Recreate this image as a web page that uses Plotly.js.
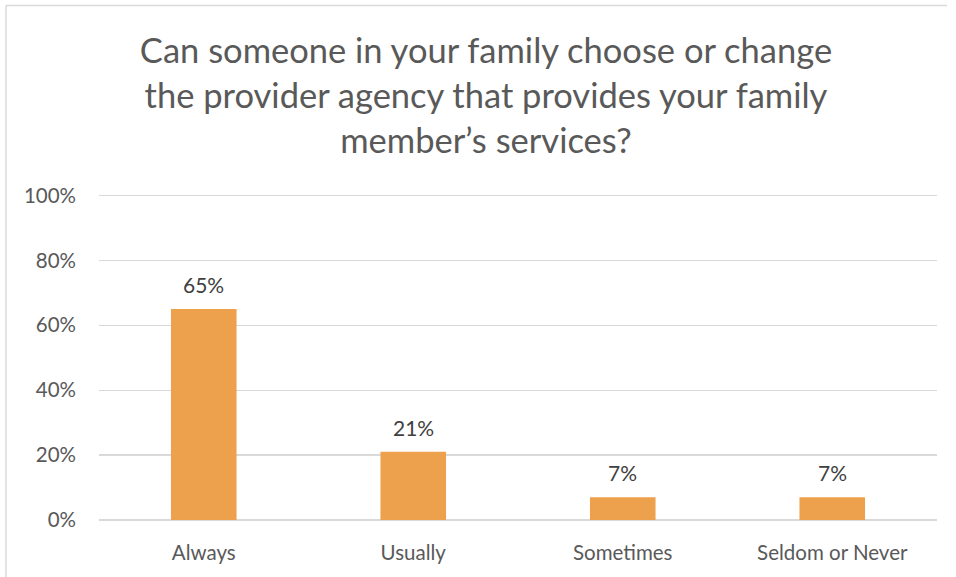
<!DOCTYPE html>
<html>
<head>
<meta charset="utf-8">
<script src="https://cdn.plot.ly/plotly-3.0.1.min.js"></script>
<style>
  html, body { margin: 0; padding: 0; background: #fff; }
  #chart { width: 956px; height: 577px; }
</style>
</head>
<body>
<div id="chart"></div>
<script>
const categories = ["Always", "Usually", "Sometimes", "Seldom or Never"];
const values = [65, 21, 7, 7];
const valueLabels = ["65%", "21%", "7%", "7%"];
const yTickValues = [0, 20, 40, 60, 80, 100];
const yTickLabels = ["0%", "20%", "40%", "60%", "80%", "100%"];
const titleText = "Can someone in your family choose or change<br>the provider agency that provides your family<br>member\u2019s services?";

const FONT = "Lato, 'Open Sans', sans-serif";

const trace = {
  type: "bar",
  x: categories,
  y: values,
  marker: { color: "#eda14c" },
  hoverinfo: "x+y"
};

const annotations = categories.map((c, i) => ({
  x: c, y: values[i], xref: "x", yref: "y",
  text: valueLabels[i], showarrow: false,
  yanchor: "bottom", yshift: 10,
  font: { family: FONT, size: 21, color: "#404040" }
}));

// plot area: x 99..937, y from 0 at 519.7, 100% at 195.7
const YMAX = 102;
const pxPerPct = 324 / 100;
const plotTop = 519.7 - YMAX * pxPerPct;
const plotH = 519.7 - plotTop;
const px = v => (v - 99) / 838;
const py = v => (519.7 - v) / plotH;

const layout = {
  width: 956, height: 577,
  paper_bgcolor: "#ffffff", plot_bgcolor: "#ffffff",
  margin: { l: 99, r: 19, t: plotTop, b: 577 - 519.7 },
  title: {
    text: titleText,
    x: 486 / 956, xanchor: "center", xref: "container",
    y: 1 - 63 / 577, yanchor: "top", yref: "container",
    font: { family: FONT, size: 34.5, color: "#595959" }
  },
  bargap: 0.687,
  showlegend: false,
  xaxis: {
    type: "category",
    showgrid: false, zeroline: false, showline: false,
    ticks: "", ticklabelstandoff: 18,
    tickfont: { family: FONT, size: 20.5, color: "#595959" }
  },
  yaxis: {
    range: [0, YMAX],
    tickvals: yTickValues, ticktext: yTickLabels,
    showgrid: true, gridcolor: "#d9d9d9", gridwidth: 1.4,
    zeroline: true, zerolinecolor: "#d9d9d9", zerolinewidth: 1.4,
    showline: false, ticks: "", ticklabelstandoff: 22,
    tickfont: { family: FONT, size: 20.5, color: "#595959" }
  },
  annotations: annotations,
  shapes: [
    { type: "line", xref: "paper", yref: "paper",
      x0: px(6), x1: px(947), y0: py(6), y1: py(6),
      line: { color: "#d9d9d9", width: 1.4 } },
    { type: "line", xref: "paper", yref: "paper",
      x0: px(6), x1: px(6), y0: py(6), y1: py(578),
      line: { color: "#d9d9d9", width: 1.4 } }
  ]
};

Plotly.newPlot("chart", [trace], layout, { displayModeBar: false, staticPlot: true });
</script>
</body>
</html>
